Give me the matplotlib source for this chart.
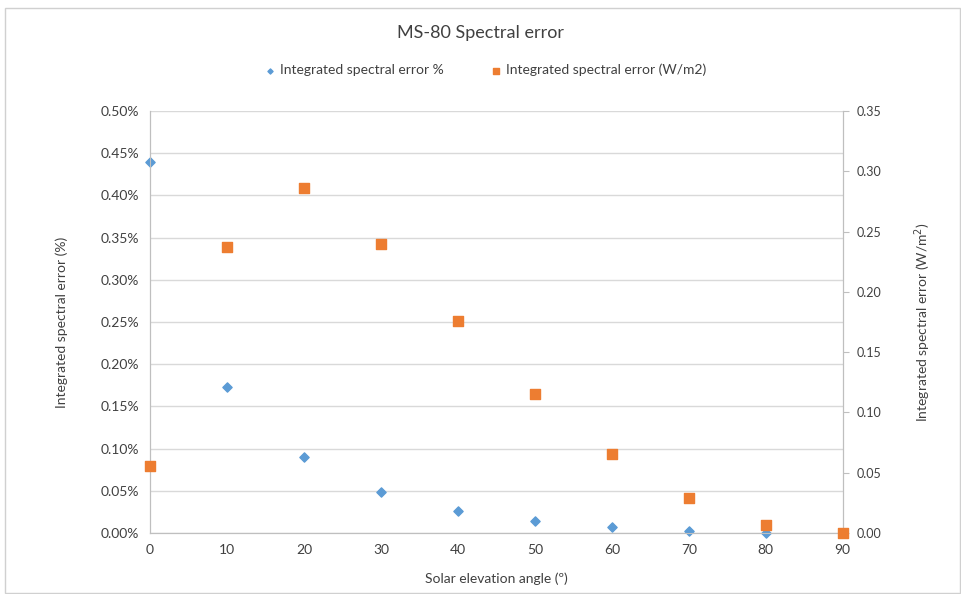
import matplotlib.pyplot as plt
from matplotlib.ticker import FuncFormatter, MultipleLocator
from matplotlib.patches import Rectangle

plt.rcParams['font.family'] = ['Lato', 'DejaVu Sans']

angles = [0, 10, 20, 30, 40, 50, 60, 70, 80, 90]
error_pct = [0.44, 0.173, 0.090, 0.0486, 0.026, 0.014, 0.007, 0.0024, 0.0005, 0.0]
error_wm2 = [0.0556, 0.237, 0.286, 0.240, 0.176, 0.115, 0.0655, 0.029, 0.0066, 0.0]

blue = '#5B9BD5'
orange = '#ED7D31'
grey = '#BFBFBF'
txt = '#404040'

fig = plt.figure(figsize=(9.62, 5.94), dpi=100)
fig.patches.append(Rectangle((0.005, 0.002), 0.993, 0.985, transform=fig.transFigure,
                             fill=False, edgecolor='#D0D0D0', linewidth=1))

ax = fig.add_axes([0.156, 0.1027, 0.720, 0.7103])
ax2 = ax.twinx()

ax.scatter(angles, error_pct, marker='D', s=22, color=blue, zorder=3, clip_on=False,
           label='Integrated spectral error %')
ax2.scatter(angles, error_wm2, marker='s', s=55, color=orange, zorder=3, clip_on=False,
            label='Integrated spectral error (W/m2)')

ax.set_xlim(0, 90)
ax.set_ylim(0, 0.5)
ax2.set_ylim(0, 0.35)
ax.xaxis.set_major_locator(MultipleLocator(10))
ax.yaxis.set_major_locator(MultipleLocator(0.05))
ax2.yaxis.set_major_locator(MultipleLocator(0.05))
ax.yaxis.set_major_formatter(FuncFormatter(lambda v, p: '{:.2f}%'.format(v)))
ax2.yaxis.set_major_formatter(FuncFormatter(lambda v, p: '{:.2f}'.format(v)))

ax.grid(axis='y', color='#D9D9D9', linewidth=1)
ax.set_axisbelow(True)

for a in (ax, ax2):
    a.spines['top'].set_visible(False)
    for side in ('left', 'right', 'bottom'):
        a.spines[side].set_color(grey)
ax.tick_params(axis='y', length=0, colors=txt, labelsize=10, pad=8)
ax.tick_params(axis='x', length=0, colors=txt, labelsize=10, pad=8)
ax2.tick_params(axis='y', length=4, color=grey, labelcolor=txt, labelsize=9, pad=6)

ax.set_xlabel('Solar elevation angle (º)', color=txt, fontsize=10, labelpad=12)
ax.set_ylabel('Integrated spectral error (%)', color=txt, fontsize=10, labelpad=23)
ax2.set_ylabel('Integrated spectral error (W/m$^2$)', color=txt, fontsize=10, labelpad=22)

fig.suptitle('MS-80 Spectral error', x=0.5, y=0.958, fontsize=13, color=txt)

h1, l1 = ax.get_legend_handles_labels()
h2, l2 = ax2.get_legend_handles_labels()
fig.legend(h1 + h2, l1 + l2, loc='center', bbox_to_anchor=(0.5, 0.882), ncol=2,
           frameon=False, fontsize=10, handletextpad=-0.3, columnspacing=2.8,
           markerscale=0.55, labelcolor=txt)

fig.savefig('out.png', dpi=100)
